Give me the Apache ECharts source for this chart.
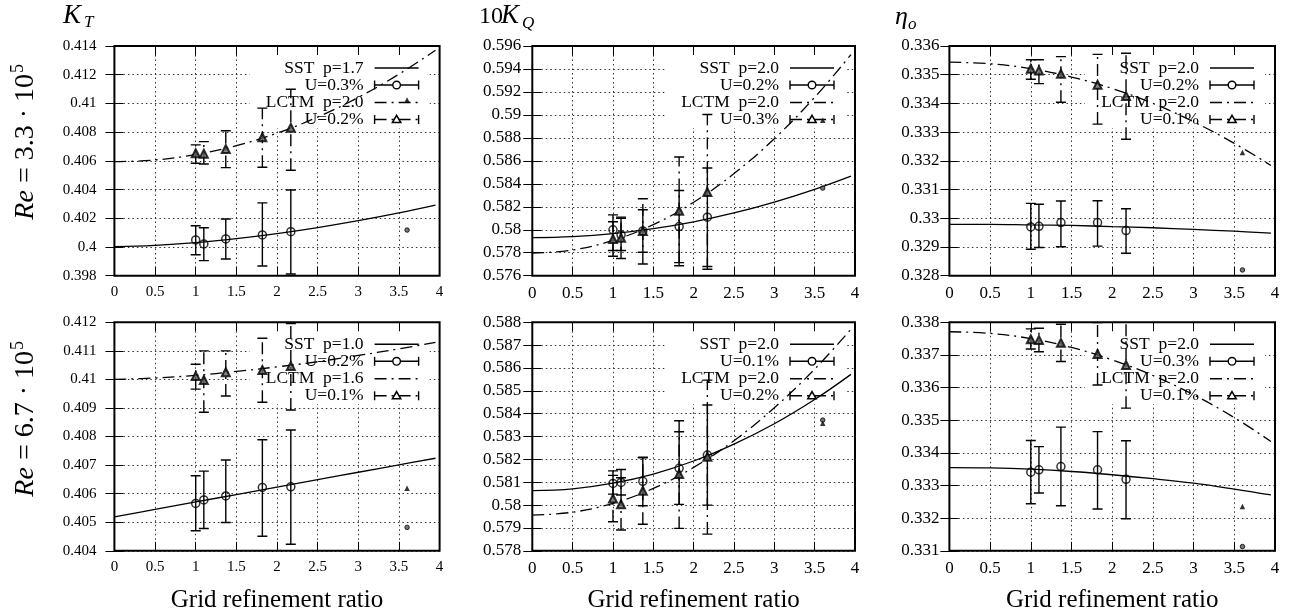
<!DOCTYPE html>
<html>
<head>
<meta charset="utf-8">
<script src="https://cdn.jsdelivr.net/npm/echarts@6/dist/echarts.min.js"></script>
<style>
  html, body { margin: 0; padding: 0; background: #fff; }
  #chart { width: 1292px; height: 615px; }
</style>
</head>
<body>
<div id="chart"></div>
<script>
// Grid refinement ratios of the five finer meshes and of the coarsest mesh
const refineRatio = [1, 1.1, 1.37, 1.82, 2.17];
const coarseRatio = 3.6;
// Abscissae at which the fitted extrapolation curves are sampled
const fitX = [0, 0.5, 1, 1.5, 2, 2.5, 3, 3.5, 3.95];
const xTicks = [0, 4, 0.5];

// ---- K_T, Re = 3.3e5 ----
const ktA_axis = [0.398, 0.414, 0.002];
const ktA_legend = ['SST  p=1.7', 'U=0.3%', 'LCTM  p=2.0', 'U=0.2%'];
const ktA_sst = [0.40049, 0.40021, 0.40056, 0.40084, 0.40107];
const ktA_sstErr = [[0.39946, 0.40148], [0.39905, 0.40134], [0.39916, 0.40195], [0.39868, 0.40307], [0.39812, 0.40397]];
const ktA_lctm = [0.40653, 0.40650, 0.40683, 0.40764, 0.40831];
const ktA_lctmErr = [[0.40583, 0.40711], [0.40578, 0.40734], [0.40553, 0.40810], [0.40555, 0.40967], [0.40535, 0.41099]];
const ktA_sstFit = [0.40002, 0.40011, 0.40030, 0.40058, 0.40093, 0.40135, 0.40183, 0.40237, 0.40291];
const ktA_lctmFit = [0.40594, 0.40606, 0.40644, 0.40706, 0.40793, 0.40905, 0.41042, 0.41204, 0.41371];
const ktA_coarse = [0.40118, 0.41024];

// ---- 10 K_Q, Re = 3.3e5 ----
const kqA_axis = [0.576, 0.596, 0.002];
const kqA_legend = ['SST  p=2.0', 'U=0.2%', 'LCTM  p=2.0', 'U=0.3%'];
const kqA_sst = [0.58000, 0.57955, 0.57990, 0.58028, 0.58110];
const kqA_sstErr = [[0.57820, 0.58130], [0.57820, 0.58100], [0.57804, 0.58174], [0.57687, 0.58342], [0.57680, 0.58538]];
const kqA_lctm = [0.57920, 0.57930, 0.57990, 0.58165, 0.58328];
const kqA_lctmErr = [[0.57770, 0.58070], [0.57750, 0.58110], [0.57702, 0.58270], [0.57714, 0.58634], [0.57656, 0.59003]];
const kqA_sstFit = [0.57932, 0.57941, 0.57966, 0.58009, 0.58069, 0.58146, 0.58241, 0.58352, 0.58467];
const kqA_lctmFit = [0.57796, 0.57824, 0.57907, 0.58045, 0.58239, 0.58489, 0.58793, 0.59153, 0.59525];
const kqA_coarse = [0.58363, 0.58954];

// ---- eta_o, Re = 3.3e5 ----
const etA_axis = [0.328, 0.336, 0.001];
const etA_legend = ['SST  p=2.0', 'U=0.2%', 'LCTM  p=2.0', 'U=0.1%'];
const etA_sst = [0.32970, 0.32972, 0.32985, 0.32985, 0.32957];
const etA_sstErr = [[0.32892, 0.33052], [0.32898, 0.33049], [0.32901, 0.33060], [0.32903, 0.33061], [0.32878, 0.33033]];
const etA_lctm = [0.33521, 0.33515, 0.33503, 0.33465, 0.33426];
const etA_lctmErr = [[0.33484, 0.33552], [0.33469, 0.33552], [0.33404, 0.33563], [0.33328, 0.33571], [0.33275, 0.33575]];
const etA_sstFit = [0.32979, 0.32979, 0.32977, 0.32975, 0.32971, 0.32967, 0.32961, 0.32955, 0.32948];
const etA_lctmFit = [0.33544, 0.33538, 0.33521, 0.33492, 0.33452, 0.33400, 0.33336, 0.33261, 0.33184];
const etA_coarse = [0.32820, 0.33229];

// ---- K_T, Re = 6.7e5 ----
const ktB_axis = [0.404, 0.412, 0.001];
const ktB_legend = ['SST  p=1.0', 'U=0.2%', 'LCTM  p=1.6', 'U=0.1%'];
const ktB_sst = [0.40566, 0.40578, 0.40592, 0.40622, 0.40624];
const ktB_sstErr = [[0.40470, 0.40663], [0.40478, 0.40679], [0.40499, 0.40718], [0.40451, 0.40789], [0.40423, 0.40823]];
const ktB_lctm = [0.41012, 0.40998, 0.41025, 0.41033, 0.41047];
const ktB_lctmErr = [[0.40966, 0.41053], [0.40885, 0.41100], [0.40942, 0.41100], [0.40920, 0.41144], [0.40893, 0.41196]];
const ktB_sstFit = [0.40519, 0.40545, 0.40571, 0.40597, 0.40623, 0.40649, 0.40675, 0.40701, 0.40724];
const ktB_lctmFit = [0.41000, 0.41005, 0.41014, 0.41028, 0.41044, 0.41062, 0.41084, 0.41107, 0.41130];
const ktB_coarse = [0.40482, 0.40619];

// ---- 10 K_Q, Re = 6.7e5 ----
const kqB_axis = [0.578, 0.588, 0.001];
const kqB_legend = ['SST  p=2.0', 'U=0.1%', 'LCTM  p=2.0', 'U=0.2%'];
const kqB_sst = [0.58095, 0.58099, 0.58104, 0.58161, 0.58219];
const kqB_sstErr = [[0.58048, 0.58150], [0.58044, 0.58156], [0.57997, 0.58207], [0.58003, 0.58321], [0.58000, 0.58438]];
const kqB_lctm = [0.58029, 0.58004, 0.58063, 0.58136, 0.58212];
const kqB_lctmErr = [[0.57927, 0.58130], [0.57891, 0.58120], [0.57916, 0.58210], [0.57898, 0.58369], [0.57873, 0.58547]];
const kqB_sstFit = [0.58063, 0.58071, 0.58096, 0.58136, 0.58193, 0.58267, 0.58356, 0.58462, 0.58572];
const kqB_lctmFit = [0.57956, 0.57969, 0.58008, 0.58073, 0.58165, 0.58282, 0.58426, 0.58595, 0.58770];
const kqB_coarse = [0.58372, 0.58358];

// ---- eta_o, Re = 6.7e5 ----
const etB_axis = [0.331, 0.338, 0.001];
const etB_legend = ['SST  p=2.0', 'U=0.3%', 'LCTM  p=2.0', 'U=0.1%'];
const etB_sst = [0.33341, 0.33348, 0.33358, 0.33348, 0.33319];
const etB_sstErr = [[0.33244, 0.33438], [0.33277, 0.33419], [0.33238, 0.33479], [0.33228, 0.33465], [0.33198, 0.33437]];
const etB_lctm = [0.33748, 0.33746, 0.33737, 0.33703, 0.33669];
const etB_lctmErr = [[0.33718, 0.33780], [0.33710, 0.33782], [0.33680, 0.33794], [0.33608, 0.33799], [0.33537, 0.33803]];
const etB_sstFit = [0.33355, 0.33354, 0.33350, 0.33343, 0.33333, 0.33321, 0.33307, 0.33289, 0.33271];
const etB_lctmFit = [0.33771, 0.33766, 0.33750, 0.33723, 0.33685, 0.33637, 0.33578, 0.33508, 0.33435];
const etB_coarse = [0.33113, 0.33236];

const panels = [
  { axis: ktA_axis, legend: ktA_legend, sst: ktA_sst, sstErr: ktA_sstErr, lctm: ktA_lctm, lctmErr: ktA_lctmErr, sstFit: ktA_sstFit, lctmFit: ktA_lctmFit, coarse: ktA_coarse },
  { axis: kqA_axis, legend: kqA_legend, sst: kqA_sst, sstErr: kqA_sstErr, lctm: kqA_lctm, lctmErr: kqA_lctmErr, sstFit: kqA_sstFit, lctmFit: kqA_lctmFit, coarse: kqA_coarse },
  { axis: etA_axis, legend: etA_legend, sst: etA_sst, sstErr: etA_sstErr, lctm: etA_lctm, lctmErr: etA_lctmErr, sstFit: etA_sstFit, lctmFit: etA_lctmFit, coarse: etA_coarse },
  { axis: ktB_axis, legend: ktB_legend, sst: ktB_sst, sstErr: ktB_sstErr, lctm: ktB_lctm, lctmErr: ktB_lctmErr, sstFit: ktB_sstFit, lctmFit: ktB_lctmFit, coarse: ktB_coarse },
  { axis: kqB_axis, legend: kqB_legend, sst: kqB_sst, sstErr: kqB_sstErr, lctm: kqB_lctm, lctmErr: kqB_lctmErr, sstFit: kqB_sstFit, lctmFit: kqB_lctmFit, coarse: kqB_coarse },
  { axis: etB_axis, legend: etB_legend, sst: etB_sst, sstErr: etB_sstErr, lctm: etB_lctm, lctmErr: etB_lctmErr, sstFit: etB_sstFit, lctmFit: etB_lctmFit, coarse: etB_coarse }
];

// ---- layout ----
const SERIF = '"Liberation Serif", "DejaVu Serif", serif';
const DASHDOT = [12, 5, 2, 5];
const colLeft = [114.4, 532.3, 949.4];
const colRight = [439.6, 855.0, 1275.0];
const rowTop = [46, 322.3];
const rowBottom = [275.7, 550.8];
const tickFont = [15, 17, 17];
const yLabelGap = [18, 11, 10];

const grids = [], xAxes = [], yAxes = [], series = [], graphics = [];

function tickStyle() {
  return { inside: true, length: 9, lineStyle: { color: '#000', width: 1 } };
}

function errorBarSeries(idx, pairs, dashed) {
  return {
    type: 'custom', xAxisIndex: 2 * idx, yAxisIndex: 2 * idx, clip: true, z: 3,
    data: refineRatio.map((x, k) => [x, pairs[k][0], pairs[k][1]]),
    encode: { x: 0, y: [1, 2] },
    renderItem: function (params, api) {
      const x = api.value(0);
      const lo = api.coord([x, api.value(1)]);
      const hi = api.coord([x, api.value(2)]);
      const hw = 5;
      const st = { stroke: '#000', lineWidth: 1.4, lineDash: dashed ? DASHDOT : null };
      return {
        type: 'group',
        children: [
          { type: 'line', shape: { x1: lo[0], y1: lo[1], x2: hi[0], y2: hi[1] }, style: st },
          { type: 'line', shape: { x1: lo[0] - hw, y1: lo[1], x2: lo[0] + hw, y2: lo[1] }, style: { stroke: '#000', lineWidth: 1.4 } },
          { type: 'line', shape: { x1: hi[0] - hw, y1: hi[1], x2: hi[0] + hw, y2: hi[1] }, style: { stroke: '#000', lineWidth: 1.4 } }
        ]
      };
    }
  };
}

function txt(s, x, y, o) {
  return {
    type: 'text', x: x, y: y, z: 2,
    style: Object.assign({ text: s, fill: '#000', fontFamily: SERIF, fontSize: 16, align: 'left', verticalAlign: 'middle' }, o || {})
  };
}

function hline(x1, x2, y, dashed) {
  return { type: 'line', z: 2, shape: { x1: x1, y1: y, x2: x2, y2: y },
    style: { stroke: '#000', lineWidth: 1.4, lineDash: dashed ? DASHDOT : null } };
}
function vcap(x, y) {
  return { type: 'line', z: 2, shape: { x1: x, y1: y - 4.5, x2: x, y2: y + 4.5 }, style: { stroke: '#000', lineWidth: 1.4 } };
}

panels.forEach(function (p, i) {
  const c = i % 3, r = Math.floor(i / 3);
  const L = colLeft[c], R = colRight[c], T = rowTop[r], B = rowBottom[r];
  grids.push({ left: L, top: T, width: R - L, height: B - T, show: true,
    borderColor: '#000', borderWidth: 2, backgroundColor: 'transparent', z: 10, outerBoundsMode: 'none' });

  xAxes.push({ gridIndex: i, type: 'value', min: xTicks[0], max: xTicks[1], interval: xTicks[2], z: 0,
    axisLine: { show: false }, axisTick: tickStyle(),
    axisLabel: { color: '#000', fontFamily: SERIF, fontSize: tickFont[c], margin: 9, showMinLabel: true, showMaxLabel: true,
      formatter: v => String(+v.toFixed(1)) },
    splitLine: { show: true, lineStyle: { color: '#333', width: 1, type: [1.5, 3] } } });
  xAxes.push({ gridIndex: i, type: 'value', position: 'top', min: xTicks[0], max: xTicks[1], interval: xTicks[2], z: 4,
    axisLine: { show: false }, axisTick: tickStyle(), axisLabel: { show: false }, splitLine: { show: false } });

  yAxes.push({ gridIndex: i, type: 'value', min: p.axis[0], max: p.axis[1], interval: p.axis[2], z: 0,
    axisLine: { show: false }, axisTick: tickStyle(),
    axisLabel: { color: '#000', fontFamily: SERIF, fontSize: tickFont[c], margin: yLabelGap[c], showMinLabel: true, showMaxLabel: true,
      formatter: v => String(+v.toFixed(3)) },
    splitLine: { show: true, lineStyle: { color: '#333', width: 1, type: [1.5, 3] } } });
  yAxes.push({ gridIndex: i, type: 'value', position: 'right', min: p.axis[0], max: p.axis[1], interval: p.axis[2], z: 4,
    axisLine: { show: false }, axisTick: tickStyle(), axisLabel: { show: false }, splitLine: { show: false } });

  const xi = 2 * i, yi = 2 * i;
  // fitted curves
  series.push({ type: 'line', xAxisIndex: xi, yAxisIndex: yi, smooth: 0.4, symbol: 'none', z: 3,
    data: fitX.map((x, k) => [x, p.sstFit[k]]), lineStyle: { color: '#000', width: 1.3 } });
  series.push({ type: 'line', xAxisIndex: xi, yAxisIndex: yi, smooth: 0.4, symbol: 'none', z: 3,
    data: fitX.map((x, k) => [x, p.lctmFit[k]]), lineStyle: { color: '#000', width: 1.3, type: DASHDOT } });
  // uncertainty bars
  series.push(errorBarSeries(i, p.sstErr, false));
  series.push(errorBarSeries(i, p.lctmErr, true));
  // mesh results
  series.push({ type: 'scatter', xAxisIndex: xi, yAxisIndex: yi, z: 4, symbol: 'circle', symbolSize: 8,
    data: refineRatio.map((x, k) => [x, p.sst[k]]),
    itemStyle: { color: 'rgba(0,0,0,0)', borderColor: '#000', borderWidth: 1.5 } });
  series.push({ type: 'scatter', xAxisIndex: xi, yAxisIndex: yi, z: 4, symbol: 'triangle', symbolSize: 8,
    data: refineRatio.map((x, k) => [x, p.lctm[k]]),
    itemStyle: { color: '#666', borderColor: '#000', borderWidth: 2 } });
  // coarsest mesh
  series.push({ type: 'scatter', xAxisIndex: xi, yAxisIndex: yi, z: 4, symbol: 'circle', symbolSize: 4.5,
    data: [[coarseRatio, p.coarse[0]]], itemStyle: { color: '#555', borderColor: '#000', borderWidth: 1 } });
  series.push({ type: 'scatter', xAxisIndex: xi, yAxisIndex: yi, z: 4, symbol: 'triangle', symbolSize: 5.5,
    data: [[coarseRatio, p.coarse[1]]], itemStyle: { color: '#000' } });

  // key: opaque box behind the entries
  graphics.push({ type: 'rect', z: 1, shape: { x: R - 190, y: T + 6, width: 180, height: 76 }, style: { fill: '#fff' } });
  const rows = [T + 22, T + 39, T + 56.5, T + 73.5];
  const s0 = R - 65, s1 = R - 21, sm = R - 43;
  p.legend.forEach(function (label, k) {
    graphics.push(txt(label, R - 76, rows[k], { align: 'right', fontSize: 17.5 }));
  });
  graphics.push(hline(s0, s1, rows[0], false));
  graphics.push(hline(s0, s1, rows[1], false), vcap(s0, rows[1]), vcap(s1, rows[1]));
  graphics.push({ type: 'circle', z: 2, shape: { cx: sm, cy: rows[1], r: 3.8 }, style: { fill: '#fff', stroke: '#000', lineWidth: 1.4 } });
  graphics.push(hline(s0, s1, rows[2], true));
  graphics.push(hline(s0, s1, rows[3], true), vcap(s0, rows[3]), vcap(s1, rows[3]));
  graphics.push({ type: 'polygon', z: 2, shape: { points: [[sm, rows[3] - 4.2], [sm + 4.2, rows[3] + 3], [sm - 4.2, rows[3] + 3]] },
    style: { fill: '#fff', stroke: '#000', lineWidth: 1.5 } });

  // abscissa title under the lower row
  if (r === 1) {
    graphics.push(txt('Grid refinement ratio', (L + R) / 2, 600, { align: 'center', fontSize: 25 }));
  }
});

// column titles
graphics.push(txt('K', 63, 16, { fontSize: 27, fontStyle: 'italic' }));
graphics.push(txt('T', 84, 23, { fontSize: 17, fontStyle: 'italic' }));
graphics.push(txt('10', 479, 17, { fontSize: 24 }));
graphics.push(txt('K', 501, 16, { fontSize: 27, fontStyle: 'italic' }));
graphics.push(txt('Q', 522, 24, { fontSize: 17, fontStyle: 'italic' }));
graphics.push(txt('\u03b7', 895, 17, { fontSize: 26, fontStyle: 'italic' }));
graphics.push(txt('o', 908, 25, { fontSize: 17, fontStyle: 'italic' }));

// row titles (rotated)
function rowTitle(val, cy) {
  return {
    type: 'group', x: 26, y: cy, rotation: Math.PI / 2, z: 2,
    children: [
      { type: 'text', x: 70, y: 0, style: { text: '{i|Re} = ' + val + ' \u00b7 10', rich: { i: { fontStyle: 'italic', fontFamily: SERIF, fontSize: 28 } },
          fill: '#000', fontFamily: SERIF, fontSize: 28, align: 'right', verticalAlign: 'middle' } },
      { type: 'text', x: 71, y: -8, style: { text: '5', fill: '#000', fontFamily: SERIF, fontSize: 18, align: 'left', verticalAlign: 'middle' } }
    ]
  };
}
graphics.push(rowTitle('3.3', 144));
graphics.push(rowTitle('6.7', 421));

const chart = echarts.init(document.getElementById('chart'), null, { renderer: 'canvas' });
chart.setOption({
  animation: false,
  backgroundColor: '#fff',
  grid: grids,
  xAxis: xAxes,
  yAxis: yAxes,
  series: series,
  graphic: { elements: graphics }
});
</script>
</body>
</html>
